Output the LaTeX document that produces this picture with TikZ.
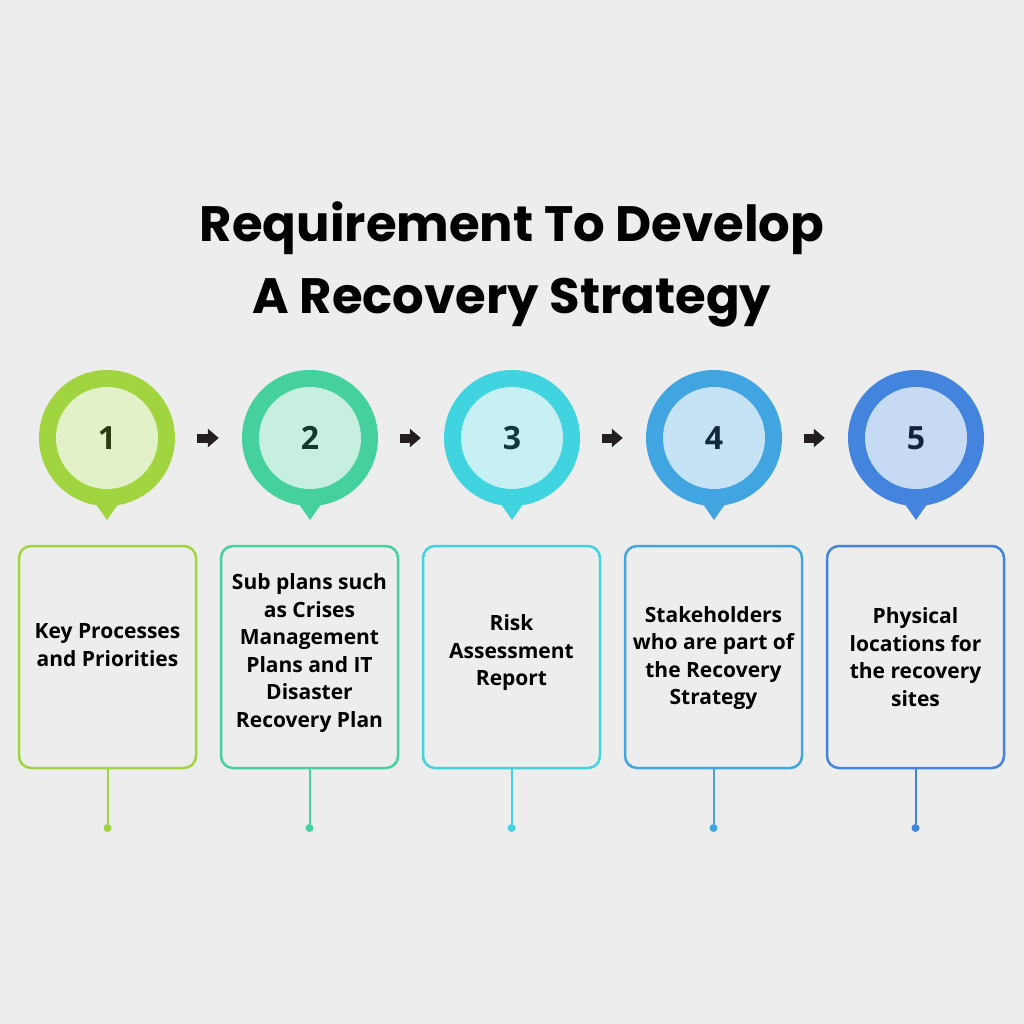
\documentclass[tikz,border=0pt]{standalone}
\usepackage{fontspec}
\setmainfont{Open Sans}
\newfontfamily\titlefont{Poppins}
\usetikzlibrary{arrows.meta,calc}

\definecolor{bg}{HTML}{EDEDED}
\definecolor{ink}{HTML}{231F20}
\definecolor{ringA}{HTML}{A1D540}
\definecolor{ringB}{HTML}{44D19E}
\definecolor{ringC}{HTML}{40D3E0}
\definecolor{ringD}{HTML}{40A5E0}
\definecolor{ringE}{HTML}{4385DE}
\definecolor{discA}{HTML}{E2F1C8}
\definecolor{discB}{HTML}{C7EFE0}
\definecolor{discC}{HTML}{C6F0F3}
\definecolor{discD}{HTML}{C6E2F5}
\definecolor{discE}{HTML}{C6DAF3}
\definecolor{numA}{HTML}{2B3A12}
\definecolor{numB}{HTML}{123A2B}
\definecolor{numC}{HTML}{10383D}
\definecolor{numD}{HTML}{10293C}
\definecolor{numE}{HTML}{13233D}

\begin{document}
\begin{tikzpicture}
        [x=1pt,y=-1pt,
        ring/.style={circle,inner sep=0,minimum size=136pt},
        disc/.style={circle,inner sep=0,minimum size=102pt,font=\fontsize{32}{32}\selectfont\bfseries},
        card/.style={draw,line width=2.5pt,rounded corners=12pt,minimum width=177pt,minimum height=222pt},
        txt/.style={align=center,font=\fontsize{21}{27.5}\selectfont\bfseries,text=black},
        stem/.style={line width=2pt},
        dot/.style={circle,inner sep=0,minimum size=8pt},
        flow/.style={-{Triangle[length=11pt,width=18pt]},line width=9pt,draw=ink}]

        \useasboundingbox[fill=bg] (0,0) rectangle (1024,1024);

        % title
        \node[font=\titlefont\fontsize{49.7}{72}\selectfont\bfseries,align=center] (title) at (512,264)
          {Requirement To Develop\\A Recovery Strategy};

        % circles
        \node[ring,fill=ringA] (c1) at (107,438) {};
        \node[ring,fill=ringB] (c2) at (310,438) {};
        \node[ring,fill=ringC] (c3) at (512,438) {};
        \node[ring,fill=ringD] (c4) at (714,438) {};
        \node[ring,fill=ringE] (c5) at (916,438) {};

        \fill[ringA] ($(c1.center)+(-14,62)$) -- ($(c1.center)+(0,82)$) -- ($(c1.center)+(14,62)$) -- cycle;
        \fill[ringB] ($(c2.center)+(-14,62)$) -- ($(c2.center)+(0,82)$) -- ($(c2.center)+(14,62)$) -- cycle;
        \fill[ringC] ($(c3.center)+(-14,62)$) -- ($(c3.center)+(0,82)$) -- ($(c3.center)+(14,62)$) -- cycle;
        \fill[ringD] ($(c4.center)+(-14,62)$) -- ($(c4.center)+(0,82)$) -- ($(c4.center)+(14,62)$) -- cycle;
        \fill[ringE] ($(c5.center)+(-14,62)$) -- ($(c5.center)+(0,82)$) -- ($(c5.center)+(14,62)$) -- cycle;

        \node[disc,fill=discA,text=numA] (n1) at (c1) {1};
        \node[disc,fill=discB,text=numB] (n2) at (c2) {2};
        \node[disc,fill=discC,text=numC] (n3) at (c3) {3};
        \node[disc,fill=discD,text=numD] (n4) at (c4) {4};
        \node[disc,fill=discE,text=numE] (n5) at (c5) {5};

        % arrows between steps
        \draw[flow] ($(c1.east)+(22,0)$) -- ($(c2.west)+(-23,0)$);
        \draw[flow] ($(c2.east)+(22,0)$) -- ($(c3.west)+(-23,0)$);
        \draw[flow] ($(c3.east)+(22,0)$) -- ($(c4.west)+(-23,0)$);
        \draw[flow] ($(c4.east)+(22,0)$) -- ($(c5.west)+(-23,0)$);

        % cards
        \node[card,draw=ringA] (b1) at (107.5,657) {};
        \node[card,draw=ringB] (b2) at (309.5,657) {};
        \node[card,draw=ringC] (b3) at (511.5,657) {};
        \node[card,draw=ringD] (b4) at (713.5,657) {};
        \node[card,draw=ringE] (b5) at (915.5,657) {};

        \node[txt] (t1) at (107.5,645) {Key Processes\\and Priorities};
        \node[txt] (t2) at (309.5,653) {Sub plans such\\as Crises\\Management\\Plans and IT\\Disaster\\Recovery Plan};
        \node[txt] (t3) at (511.5,653) {Risk\\Assessment\\Report};
        \node[txt] (t4) at (713.5,658) {Stakeholders\\who are part of\\the Recovery\\Strategy};
        \node[txt] (t5) at (915.5,657) {Physical\\locations for\\the recovery\\sites};

        % stems
        \node[dot,fill=ringA] (d1) at (107.5,828) {};
        \node[dot,fill=ringB] (d2) at (309.5,828) {};
        \node[dot,fill=ringC] (d3) at (511.5,828) {};
        \node[dot,fill=ringD] (d4) at (713.5,828) {};
        \node[dot,fill=ringE] (d5) at (915.5,828) {};

        \draw[stem,ringA] (b1.south) -- (d1);
        \draw[stem,ringB] (b2.south) -- (d2);
        \draw[stem,ringC] (b3.south) -- (d3);
        \draw[stem,ringD] (b4.south) -- (d4);
        \draw[stem,ringE] (b5.south) -- (d5);

      \end{tikzpicture}
\end{document}
